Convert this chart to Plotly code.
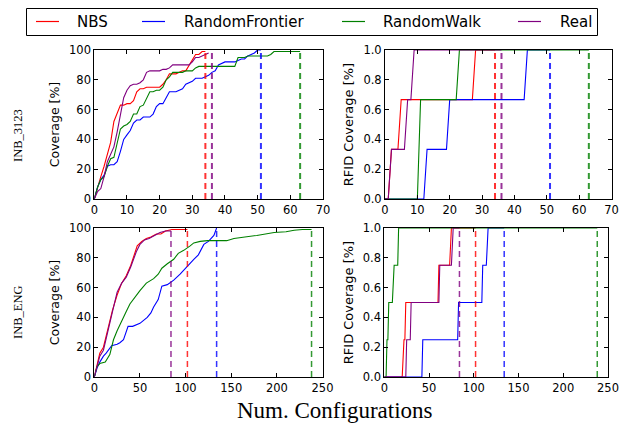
import plotly.graph_objects as go

W, H = 621, 428

series_names = ["NBS", "RandomFrontier", "RandomWalk", "Real"]
series_colors = ["#ff0000", "#0000ff", "#008000", "#800080"]

# ---------- INB_3123 : coverage ----------
a_nbs_x = list(range(0, 35))
a_nbs_y = [0, 8, 15, 22, 30, 38, 52, 58, 63, 63, 64, 64, 66, 72, 74, 74, 75, 75, 75, 75,
           75, 77, 80, 84, 84, 84, 85, 86, 86, 90, 94, 97, 97, 99, 99]
a_rf_x = list(range(0, 52))
a_rf_y = [0, 8, 13, 16, 22, 23, 23, 25, 32, 40, 43, 46, 51, 53, 53, 55, 55, 55, 57, 62,
          64, 64, 68, 72, 72, 72, 73, 74, 77, 78, 79, 81, 81, 81, 82, 83, 85, 86, 90, 91,
          92, 92, 92, 92, 93, 94, 94, 96, 97, 98, 100, 100]
a_rw_x = list(range(0, 64))
a_rw_y = [0, 8, 13, 15, 22, 27, 28, 38, 47, 49, 50, 52, 57, 57, 62, 63, 68, 72, 72, 73,
          73, 75, 80, 82, 85, 85, 85, 85, 86, 86, 86, 88, 89, 89, 89, 89, 89, 89, 89, 89,
          89, 89, 89, 89, 95, 95, 95, 96, 96, 96, 96, 96, 96, 96, 97, 99, 99, 99, 99, 99,
          99, 99, 99, 99]
a_real_x = list(range(0, 36))
a_real_y = [0, 5, 7, 15, 25, 30, 35, 45, 58, 68, 73, 76, 77, 77, 78, 80, 85, 86, 86, 86,
            86, 87, 87, 88, 90, 90, 90, 90, 90, 90, 92, 95, 95, 96, 97, 98]

# ---------- INB_3123 : RFID coverage ----------
b_nbs_x = [0, 1, 2, 4, 5, 27, 28, 34]
b_nbs_y = [0, 0, 0.333, 0.333, 0.667, 0.667, 1.0, 1.0]
b_rf_x = [0, 12, 13, 19, 20, 43, 44, 51]
b_rf_y = [0, 0, 0.333, 0.333, 0.667, 0.667, 1.0, 1.0]
b_rw_x = [0, 10, 11, 22, 23, 63]
b_rw_y = [0, 0, 0.667, 0.667, 1.0, 1.0]
b_real_x = [0, 1, 2, 6, 7, 8, 9, 36]
b_real_y = [0, 0, 0.333, 0.333, 0.667, 0.667, 1.0, 1.0]

# ---------- INB_ENG : coverage ----------
c_nbs_x = [0, 3, 6, 10, 15, 20, 25, 30, 35, 40, 47, 52, 57, 62, 68, 73, 78, 85, 95, 102]
c_nbs_y = [0, 9, 16, 20, 33, 45, 55, 63, 68, 75, 88, 91, 93, 94, 96, 96, 98, 99, 99, 99]
c_rf_x = [0, 3, 6, 10, 13, 19, 25, 28, 32, 37, 42, 46, 50, 54, 58, 62, 65, 70, 74, 80,
          87, 94, 101, 109, 114, 120, 125, 131, 134]
c_rf_y = [0, 6, 10, 14, 16, 21, 22, 23, 25, 34, 34, 35, 36, 38, 40, 43, 47, 52, 61, 62,
          65, 69, 74, 79, 82, 89, 91, 95, 100]
c_rw_x = [0, 3, 6, 12, 17, 21, 25, 30, 35, 39, 45, 50, 57, 65, 70, 74, 80, 87, 92, 98,
          105, 109, 116, 124, 145, 153, 165, 178, 197, 210, 219, 228, 238]
c_rw_y = [0, 7, 9, 10, 15, 25, 31, 37, 44, 49, 54, 58, 63, 66, 69, 73, 76, 79, 83, 85,
          88, 90, 91, 91.5, 91.5, 93, 94, 95, 97, 97.5, 98.5, 99, 99]
c_real_x = [0, 3, 6, 10, 15, 20, 25, 30, 35, 40, 46, 50, 55, 60, 66, 72, 78, 84]
c_real_y = [0, 8, 14, 18, 30, 44, 57, 63, 67, 74, 84, 89, 92, 93, 95, 97, 98, 98]

# ---------- INB_ENG : RFID coverage ----------
d_nbs_x = [0, 20, 22, 23, 24, 60, 61, 73, 75, 102]
d_nbs_y = [0, 0, 0.25, 0.25, 0.5, 0.5, 0.75, 0.75, 1.0, 1.0]
d_rf_x = [0, 42, 43, 82, 83, 109, 110, 114, 116, 134]
d_rf_y = [0, 0, 0.25, 0.25, 0.5, 0.5, 0.75, 0.75, 1.0, 1.0]
d_rw_x = [0, 2, 3, 4, 5, 9, 11, 15, 16, 238]
d_rw_y = [0, 0, 0.25, 0.25, 0.5, 0.5, 0.75, 0.75, 1.0, 1.0]
d_real_x = [0, 24, 25, 29, 30, 61, 62, 75, 77, 84]
d_real_y = [0, 0, 0.25, 0.25, 0.5, 0.5, 0.75, 0.75, 1.0, 1.0]

# end (stop) markers: vertical dashed lines
a_stop = [34, 51, 63, 36]
c_stop = [102, 134, 238, 84]

panels = [
    ("x", "y", [(a_nbs_x, a_nbs_y), (a_rf_x, a_rf_y), (a_rw_x, a_rw_y), (a_real_x, a_real_y)], a_stop, 100, 2.0),
    ("x2", "y2", [(b_nbs_x, b_nbs_y), (b_rf_x, b_rf_y), (b_rw_x, b_rw_y), (b_real_x, b_real_y)], a_stop, 1.0, 2.0),
    ("x3", "y3", [(c_nbs_x, c_nbs_y), (c_rf_x, c_rf_y), (c_rw_x, c_rw_y), (c_real_x, c_real_y)], c_stop, 100, 1.5),
    ("x4", "y4", [(d_nbs_x, d_nbs_y), (d_rf_x, d_rf_y), (d_rw_x, d_rw_y), (d_real_x, d_real_y)], c_stop, 1.0, 1.5),
]

fig = go.Figure()
for xa, ya, lines, stops, ymax, dw in panels:
    for (xs, ys), name, col in zip(lines, series_names, series_colors):
        fig.add_trace(go.Scatter(x=xs, y=ys, mode="lines", name=name, xaxis=xa, yaxis=ya,
                                 line=dict(color=col, width=1.1), showlegend=False))
    for s, col in zip(stops, series_colors):
        fig.add_trace(go.Scatter(x=[s, s], y=[0, ymax], mode="lines", xaxis=xa, yaxis=ya,
                                 line=dict(color=col, width=dw, dash="6px,4px"),
                                 opacity=0.8, showlegend=False, hoverinfo="skip"))

tickfont = dict(family="DejaVu Sans", size=11.5, color="black")
common = dict(showline=True, linecolor="black", linewidth=1, mirror="ticks",
              ticks="inside", ticklen=4, tickcolor="black", tickwidth=1,
              showgrid=False, zeroline=False, tickfont=tickfont, automargin=False,
              ticklabeloverflow="allow")

xd_l = [94.3 / W, 323.0 / W]
xd_r = [385.0 / W, 611.5 / W]
xd_l2 = [94.3 / W, 322.5 / W]
xd_r2 = [384.3 / W, 608.0 / W]
yd_t = [1 - 199.0 / H, 1 - 50.0 / H]
yd_b = [1 - 377.0 / H, 1 - 228.0 / H]

ytitle = lambda t, sz: dict(text=t, font=dict(family="DejaVu Sans", size=sz, color="black"), standoff=6)

fig.update_layout(
    width=W, height=H,
    autosize=False,
    margin=dict(l=0, r=0, t=0, b=0, pad=0, autoexpand=False),
    paper_bgcolor="white", plot_bgcolor="white",
    showlegend=False,
    xaxis=dict(domain=xd_l, anchor="y", range=[0, 70], dtick=10, **common),
    yaxis=dict(domain=yd_t, anchor="x", range=[0, 100], dtick=20, title=ytitle("Coverage [%]", 12.5), **common),
    xaxis2=dict(domain=xd_r, anchor="y2", range=[0, 70], dtick=10, **common),
    yaxis2=dict(domain=yd_t, anchor="x2", range=[0, 1], dtick=0.2, tickformat=".1f",
                title=ytitle("RFID Coverage [%]", 13), **common),
    xaxis3=dict(domain=xd_l2, anchor="y3", range=[0, 250], dtick=50, **common),
    yaxis3=dict(domain=yd_b, anchor="x3", range=[0, 100], dtick=20, title=ytitle("Coverage [%]", 12.5), **common),
    xaxis4=dict(domain=xd_r2, anchor="y4", range=[0, 250], tickvals=[0, 50, 100, 150, 200, 250], **common),
    yaxis4=dict(domain=yd_b, anchor="x4", range=[0, 1], dtick=0.2, tickformat=".1f",
                title=ytitle("RFID Coverage [%]", 13), **common),
)

serif = dict(family="Liberation Serif", color="black")
annotations = [
    dict(text="INB_3123", x=18 / W, y=1 - 136 / H, textangle=-90, font=dict(size=12.5, **serif)),
    dict(text="INB_ENG", x=18 / W, y=1 - 313 / H, textangle=-90, font=dict(size=12.5, **serif)),
    dict(text="Num. Configurations", x=335 / W, y=1 - 410 / H, font=dict(size=23, **serif)),
]

# legend (box, handles and labels)
shapes = [dict(type="rect", xref="paper", yref="paper", x0=26.5 / W, x1=597.5 / W,
               y0=1 - 35.5 / H, y1=1 - 8.5 / H, line=dict(color="black", width=1),
               fillcolor="white", layer="below")]
handle_x = [36, 142, 342, 518]
text_x = [75, 182, 381, 558]
for hx, tx, name, col in zip(handle_x, text_x, series_names, series_colors):
    shapes.append(dict(type="line", xref="paper", yref="paper", x0=hx / W, x1=(hx + 23) / W,
                       y0=1 - 21.5 / H, y1=1 - 21.5 / H, line=dict(color=col, width=1.2),
                       layer="above"))
    annotations.append(dict(text=name, x=tx / W, y=1 - 22 / H, xanchor="left",
                            font=dict(family="DejaVu Sans", size=15, color="black")))

for a in annotations:
    a.setdefault("xref", "paper")
    a.setdefault("yref", "paper")
    a.setdefault("showarrow", False)
    a.setdefault("yanchor", "middle")
    a.setdefault("xanchor", "center")

fig.update_layout(annotations=annotations, shapes=shapes)
fig.write_html("out.html", config={"responsive": False, "displayModeBar": False},
               post_script="document.body.style.margin='0';document.body.style.overflow='hidden';")
